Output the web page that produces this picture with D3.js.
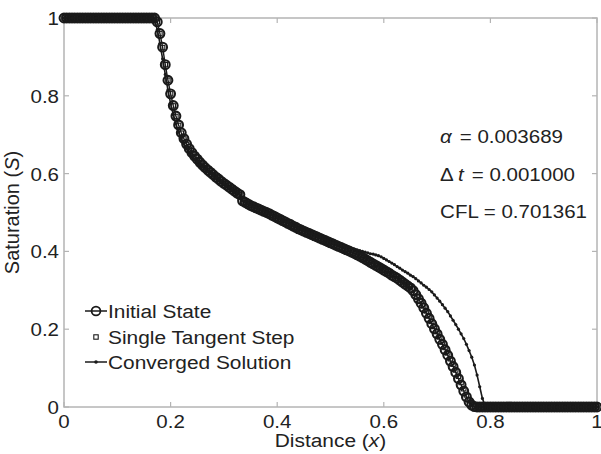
<!DOCTYPE html>
<html>
<head>
<meta charset="utf-8">
<style>
body { margin: 0; background: #fff; }
text { font-family: "Liberation Sans", Arial, Helvetica, sans-serif; fill: #222; }
.axis-box { fill: none; stroke: #b4b4b4; stroke-width: 1.5px; }
.tick-mark { stroke: #b4b4b4; stroke-width: 1.2px; }
</style>
</head>
<body>
<svg width="601" height="454"></svg>
<script src="https://d3js.org/d3.v7.min.js"></script>
<script>
// saturation profiles, sampled every 0.005 in x (201 points)
var xs = d3.range(201).map(function(i){ return i / 200; });

var initialState = [
  1,1,1,1,1,1,1,1,1,1, 1,1,1,1,1,1,1,1,1,1, 1,1,1,1,1,1,1,1,1,1, 1,1,1,1,1,
  0.99,0.96,0.925,0.88,0.84, 0.805,0.775,0.748,0.725,0.705, 0.69,0.676,0.664,0.654,0.645,
  0.637,0.629,0.622,0.615,0.609, 0.603,0.597,0.591,0.586,0.580, 0.575,0.570,0.565,0.560,0.555,
  0.550,0.546,0.530,0.526,0.522, 0.518,0.515,0.512,0.509,0.506, 0.503,0.500,0.497,0.493,0.490,
  0.486,0.483,0.479,0.476,0.472, 0.469,0.465,0.462,0.458,0.455, 0.452,0.449,0.446,0.443,0.440,
  0.437,0.434,0.431,0.428,0.425, 0.422,0.419,0.416,0.413,0.410, 0.407,0.404,0.401,0.398,0.395,
  0.391,0.388,0.384,0.380,0.376, 0.372,0.368,0.364,0.360,0.356, 0.352,0.348,0.344,0.339,0.335,
  0.331,0.326,0.321,0.316,0.311, 0.306,0.299,0.289,0.278,0.267, 0.255,0.241,0.228,0.214,0.201,
  0.188,0.174,0.161,0.147,0.133, 0.118,0.104,0.089,0.073,0.057, 0.041,0.026,0.013,0.005,0.001,
  0,0,0,0,0,0,0,0,0,0, 0,0,0,0,0,0,0,0,0,0, 0,0,0,0,0,0,0,0,0,0, 0,0,0,0,0,0,0,0,0,0, 0,0,0,0,0,0
];

var tangentStep = [
  1,1,1,1,1,1,1,1,1,1, 1,1,1,1,1,1,1,1,1,1, 1,1,1,1,1,1,1,1,1,1, 1,1,1,1,1,
  0.99,0.96,0.924,0.88,0.84, 0.805,0.774,0.747,0.724,0.704, 0.689,0.675,0.663,0.653,0.644,
  0.636,0.629,0.622,0.615,0.609, 0.603,0.597,0.591,0.586,0.580, 0.575,0.570,0.565,0.560,0.555,
  0.550,0.546,0.530,0.526,0.522, 0.518,0.515,0.512,0.509,0.506, 0.503,0.500,0.497,0.493,0.490,
  0.486,0.483,0.479,0.476,0.472, 0.469,0.465,0.462,0.458,0.455, 0.452,0.449,0.446,0.443,0.440,
  0.437,0.434,0.431,0.428,0.425, 0.423,0.420,0.417,0.414,0.411, 0.408,0.405,0.402,0.399,0.396,
  0.393,0.390,0.386,0.382,0.379, 0.375,0.371,0.367,0.363,0.359, 0.355,0.351,0.347,0.343,0.339,
  0.335,0.330,0.325,0.320,0.315, 0.310,0.303,0.294,0.283,0.272, 0.260,0.247,0.234,0.220,0.207,
  0.194,0.180,0.167,0.153,0.139, 0.124,0.110,0.095,0.079,0.063, 0.047,0.031,0.017,0.007,0.002,
  0,0,0,0,0,0,0,0,0,0, 0,0,0,0,0,0,0,0,0,0, 0,0,0,0,0,0,0,0,0,0, 0,0,0,0,0,0,0,0,0,0, 0,0,0,0,0,0
];

var converged = [
  1,1,1,1,1,1,1,1,1,1, 1,1,1,1,1,1,1,1,1,1, 1,1,1,1,1,1,1,1,1,1, 1,1,1,1,
  0.995,0.97,0.935,0.895,0.855,0.815, 0.78,0.752,0.728,0.707,0.69, 0.676,0.664,0.654,0.645,0.637,
  0.630,0.623,0.617,0.611,0.605, 0.600,0.594,0.589,0.584,0.579, 0.574,0.569,0.564,0.559,0.554,
  0.550,0.546,0.531,0.527,0.523, 0.519,0.516,0.513,0.510,0.507, 0.504,0.501,0.498,0.494,0.491,
  0.487,0.484,0.480,0.477,0.474, 0.470,0.467,0.464,0.460,0.457, 0.454,0.451,0.448,0.445,0.442,
  0.439,0.436,0.433,0.430,0.427, 0.424,0.422,0.420,0.418,0.416, 0.414,0.412,0.410,0.408,0.406,
  0.404,0.402,0.400,0.398,0.396, 0.394,0.393,0.391,0.389,0.386, 0.382,0.378,0.374,0.370,0.366,
  0.361,0.357,0.352,0.348,0.344, 0.339,0.335,0.330,0.324,0.319, 0.313,0.308,0.302,0.296,0.288,
  0.280,0.272,0.263,0.254,0.245, 0.234,0.223,0.212,0.200,0.188, 0.176,0.161,0.145,0.128,0.108,
  0.082,0.052,0.022,0.004,
  0,0,0,0,0,0,0,0,0,0, 0,0,0,0,0,0,0,0,0,0, 0,0,0,0,0,0,0,0,0,0, 0,0,0,0,0,0,0,0,0,0, 0,0
];

var tickValues = [0, 0.2, 0.4, 0.6, 0.8, 1];
var legendLabels = ["Initial State", "Single Tangent Step", "Converged Solution"];

var svg = d3.select("svg");
var margin = {top: 18, right: 4, bottom: 47, left: 64};
var W = 601, H = 454;

var x = d3.scaleLinear().domain([0, 1]).range([margin.left, W - margin.right]);
var y = d3.scaleLinear().domain([0, 1]).range([H - margin.bottom, margin.top]);

var ink = "#1a1a1a";

// text that is a bit wider than the font (the original figure was stretched sideways)
function wideText(parent, px, py, size, sx, anchor){
  return parent.append("text")
    .attr("transform", "translate(" + px + "," + py + ") scale(" + sx + ",1)")
    .attr("font-size", size)
    .attr("text-anchor", anchor || "start");
}

// axes box + inward ticks on all four sides (matlab style)
svg.append("rect").attr("class", "axis-box")
  .attr("x", x(0)).attr("y", y(1))
  .attr("width", x(1) - x(0)).attr("height", y(0) - y(1));

var tl = 5;
tickValues.forEach(function(t){
  svg.append("line").attr("class", "tick-mark")
    .attr("x1", x(t)).attr("x2", x(t)).attr("y1", y(0)).attr("y2", y(0) - tl);
  svg.append("line").attr("class", "tick-mark")
    .attr("x1", x(t)).attr("x2", x(t)).attr("y1", y(1)).attr("y2", y(1) + tl);
  svg.append("line").attr("class", "tick-mark")
    .attr("x1", x(0)).attr("x2", x(0) + tl).attr("y1", y(t)).attr("y2", y(t));
  svg.append("line").attr("class", "tick-mark")
    .attr("x1", x(1)).attr("x2", x(1) - tl).attr("y1", y(t)).attr("y2", y(t));
});

var fmt = function(d){ return d === 0 || d === 1 ? String(d) : d.toFixed(1); };

tickValues.forEach(function(t){
  wideText(svg, x(t), y(0) + 21, 19, 1.08, "middle").text(fmt(t));
  wideText(svg, x(0) - 5, y(t) + 7, 19, 1.08, "end").text(fmt(t));
});

// axis titles
var xl = wideText(svg, (x(0) + x(1)) / 2, 447, 19, 1.1, "middle");
xl.append("tspan").text("Distance (");
xl.append("tspan").attr("font-style", "italic").text("x");
xl.append("tspan").text(")");

var yl = svg.append("text")
  .attr("transform", "translate(19," + ((y(0) + y(1)) / 2) + ") rotate(-90)")
  .attr("text-anchor", "middle").attr("font-size", 20);
yl.append("tspan").text("Saturation (");
yl.append("tspan").attr("font-style", "italic").text("S");
yl.append("tspan").text(")");

var pts = function(vals){
  return xs.map(function(xv, i){ return [xv, vals[i]]; });
};
var line = d3.line().x(function(d){ return x(d[0]); }).y(function(d){ return y(d[1]); });

// initial state: line + open circles
svg.append("path").attr("d", line(pts(initialState)))
  .attr("fill", "none").attr("stroke", ink).attr("stroke-width", 1.4);
svg.append("g").selectAll("circle").data(pts(initialState)).enter().append("circle")
  .attr("cx", function(d){ return x(d[0]); })
  .attr("cy", function(d){ return y(d[1]); })
  .attr("r", 4.4)
  .attr("fill", "none").attr("stroke", ink).attr("stroke-width", 2.1);

// single tangent step: small squares only
svg.append("g").selectAll("rect").data(pts(tangentStep)).enter().append("rect")
  .attr("x", function(d){ return x(d[0]) - 2.2; })
  .attr("y", function(d){ return y(d[1]) - 2.2; })
  .attr("width", 4.4).attr("height", 4.4)
  .attr("fill", "none").attr("stroke", ink).attr("stroke-width", 1.1);

// converged: line + dots
svg.append("path").attr("d", line(pts(converged)))
  .attr("fill", "none").attr("stroke", ink).attr("stroke-width", 1.6);
svg.append("g").selectAll("circle").data(pts(converged)).enter().append("circle")
  .attr("cx", function(d){ return x(d[0]); })
  .attr("cy", function(d){ return y(d[1]); })
  .attr("r", 1.6).attr("fill", ink);

// legend
var lg = svg.append("g");
var ly = [311, 337, 362];
legendLabels.forEach(function(lbl, i){
  var cy = ly[i];
  if (i !== 1) {
    lg.append("line").attr("x1", 85).attr("x2", 107).attr("y1", cy).attr("y2", cy)
      .attr("stroke", ink).attr("stroke-width", 1.5);
  }
  if (i === 0) {
    lg.append("circle").attr("cx", 96).attr("cy", cy).attr("r", 4.4)
      .attr("fill", "none").attr("stroke", ink).attr("stroke-width", 1.8);
  } else if (i === 1) {
    lg.append("rect").attr("x", 93.8).attr("y", cy - 2.2).attr("width", 4.4).attr("height", 4.4)
      .attr("fill", "none").attr("stroke", ink).attr("stroke-width", 1.1);
  } else {
    lg.append("circle").attr("cx", 96).attr("cy", cy).attr("r", 1.8).attr("fill", ink);
  }
  wideText(lg, 108, cy + 7, 18, 1.16).text(lbl);
});

// parameter annotations (left edges line up, values end where the original does)
var ax = 440;
wideText(svg, ax, 143, 19, 1.08).attr("font-style", "italic").text("α");
wideText(svg, 563, 143, 19, 1.08, "end").text("= 0.003689");
wideText(svg, ax, 181, 19, 1.08).text("Δ");
wideText(svg, ax + 18, 181, 19, 1.08).attr("font-style", "italic").text("t");
wideText(svg, 575, 181, 19, 1.08, "end").text("= 0.001000");
wideText(svg, 587, 218, 19, 1.08, "end").text("CFL = 0.701361");
</script>
</body>
</html>
